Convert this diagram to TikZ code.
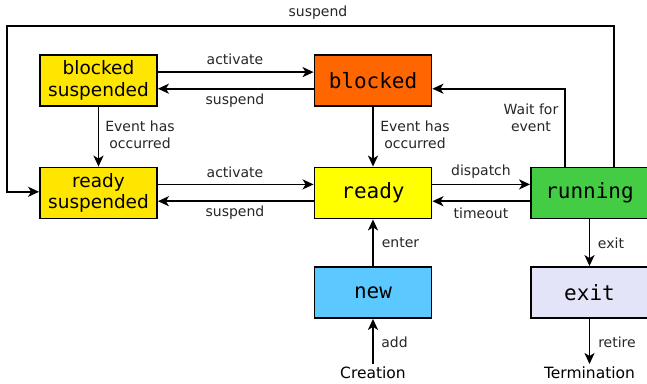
\documentclass[tikz,border=0pt]{standalone}
\usepackage{fontspec}
\setmainfont{DejaVu Sans}
\newfontfamily\monofont{DejaVu Sans Mono}
\usetikzlibrary{arrows.meta}
\definecolor{cyel}{HTML}{FFE600}
\definecolor{cready}{HTML}{FFFF00}
\definecolor{cblocked}{HTML}{FF6600}
\definecolor{crun}{HTML}{44CC44}
\definecolor{cnew}{HTML}{5BC8FF}
\definecolor{cexit}{HTML}{E4E4F8}
\tikzset{
  state/.style={draw=black, line width=1.8pt, minimum width=117pt, minimum height=51pt, inner sep=0pt, align=center},
  monost/.style={state, font=\monofont\fontsize{21}{25}\selectfont},
  sansst/.style={state, font=\fontsize{18.5}{21.5}\selectfont},
  lbl/.style={font=\fontsize{14}{17}\selectfont, text=black!85, inner sep=0pt, align=center},
  endtxt/.style={font=\fontsize{15.5}{18}\selectfont, inner sep=0pt, text depth=0pt, anchor=base},
  conn/.style={line width=1.8pt, -{Stealth[length=11pt,width=10pt,inset=3pt]}}
}
\begin{document}
\begin{tikzpicture}[x=1pt,y=-1pt]
\useasboundingbox (0,0) rectangle (647,383);
\begin{scope}
\clip (0,0) rectangle (647,383);
\node[sansst, fill=cyel] (bs) at (98.5,80.5) {blocked\\suspended};
\node[monost, fill=cblocked] (b) at (373,80.5) {blocked};
\node[sansst, fill=cyel] (rs) at (98.5,193) {ready\\suspended};
\node[monost, fill=cready] (r) at (373,193) {ready};
\node[monost, fill=crun] (run) at (589.5,193) {running};
\node[monost, fill=cnew] (new) at (373,292.5) {new};
\node[monost, fill=cexit] (ex) at (589.5,292.5) {exit};
\node[endtxt] (cr) at (373,378) {Creation};
\node[endtxt] (term) at (589.5,378) {Termination};

\coordinate (c1) at (6.7,26);
\coordinate (c2) at (614,26);

\draw[conn] ([yshift=8.4pt]bs.east) -- ([yshift=8.4pt]b.west);
\draw[conn] ([yshift=-8.2pt]b.west) -- ([yshift=-8.2pt]bs.east);
\draw[conn] ([yshift=8.6pt]rs.east) -- ([yshift=8.6pt]r.west);
\draw[conn] ([yshift=-8.2pt]r.west) -- ([yshift=-8.2pt]rs.east);
\draw[conn] ([yshift=8.6pt]r.east) -- ([yshift=8.6pt]run.west);
\draw[conn] ([yshift=-8.2pt]run.west) -- ([yshift=-8.2pt]r.east);
\draw[conn] (bs.south) -- (rs.north);
\draw[conn] (b.south) -- (r.north);
\draw[conn] (run.north -| 565,0) |- ([yshift=-8.2pt]b.east);
\draw[conn] (run.north -| c2) -- (c2) -- (c1) |- ([yshift=1.2pt]rs.west);
\draw[conn] (new.north) -- (r.south);
\draw[conn] (run.south) -- (ex.north);
\draw[conn] ([yshift=2pt]cr.north) -- (new.south);
\draw[conn] (ex.south) -- ([yshift=2pt]term.north);

\node[lbl] (l1) at (318,13) {suspend};
\node[lbl] (l2) at (235,59) {activate};
\node[lbl] (l3) at (235,101) {suspend};
\node[lbl] (l4) at (235,172) {activate};
\node[lbl] (l5) at (235,213) {suspend};
\node[lbl] (l6) at (481,172) {dispatch};
\node[lbl] (l7) at (481,213) {timeout};
\node[lbl] (l8) at (140,134.5) {Event has\\occurred};
\node[lbl] (l9) at (415,134.5) {Event has\\occurred};
\node[lbl] (l10) at (531,118) {Wait for\\event};
\node[lbl] (l11) at (400.5,243) {enter};
\node[lbl] (l12) at (394.5,342.5) {add};
\node[lbl] (l13) at (611,243) {exit};
\node[lbl] (l14) at (617,342.5) {retire};
\end{scope}
\end{tikzpicture}
\end{document}
